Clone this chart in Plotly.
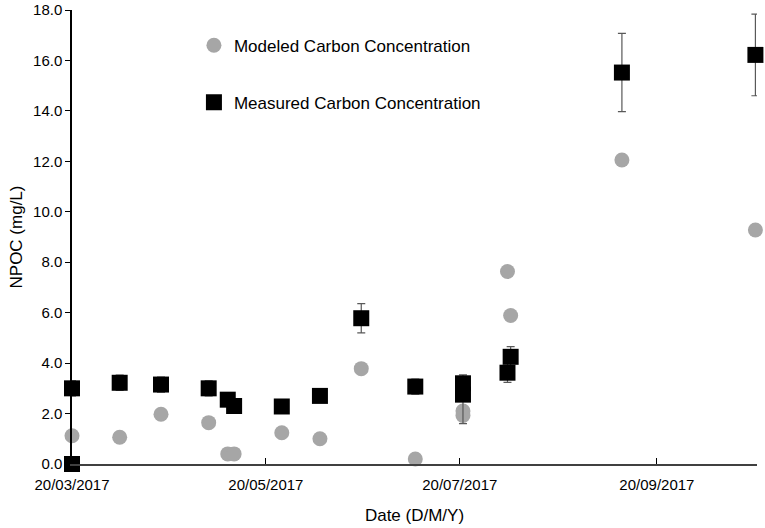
import plotly.graph_objects as go

# Modeled carbon concentration (grey circles)
modeled_dates = ['2017-03-20', '2017-04-04', '2017-04-17', '2017-05-02', '2017-05-08',
                 '2017-05-10', '2017-05-25', '2017-06-06', '2017-06-19', '2017-07-06',
                 '2017-07-21', '2017-07-21', '2017-08-04', '2017-08-05', '2017-09-09',
                 '2017-10-21']
modeled_npoc = [1.12, 1.06, 1.97, 1.64, 0.40, 0.40, 1.24, 1.00, 3.78, 0.20,
                2.10, 1.92, 7.63, 5.89, 12.05, 9.28]
modeled_err = [0.22, 0.22, 0.0, 0.0, 0.22, 0.22, 0.0, 0.22, 0.22, 0.22,
               0.22, 0.22, 0.0, 0.0, 0.22, 0.22]

# Measured carbon concentration (black squares)
measured_dates = ['2017-03-20', '2017-03-20', '2017-04-04', '2017-04-17', '2017-05-02',
                  '2017-05-08', '2017-05-10', '2017-05-25', '2017-06-06', '2017-06-19',
                  '2017-07-06', '2017-07-21', '2017-07-21', '2017-08-04', '2017-08-05',
                  '2017-09-09', '2017-10-21']
measured_npoc = [3.00, 0.00, 3.22, 3.15, 3.00, 2.55, 2.30, 2.28, 2.70, 5.78,
                 3.07, 3.20, 2.75, 3.62, 4.25, 15.52, 16.22]
measured_err_plus = [0.30, 0.0, 0.30, 0.30, 0.30, 0.15, 0.10, 0.10, 0.20, 0.58,
                     0.30, 0.33, 0.30, 0.38, 0.40, 1.55, 1.62]
measured_err_minus = [0.30, 0.0, 0.30, 0.30, 0.30, 0.15, 0.10, 0.10, 0.20, 0.58,
                      0.30, 0.33, 1.15, 0.38, 0.40, 1.55, 1.62]

x_ticks = ['2017-03-20', '2017-05-20', '2017-07-20', '2017-09-20']
y_ticks = [0, 2, 4, 6, 8, 10, 12, 14, 16, 18]

font_family = 'Arial, Liberation Sans, sans-serif'

fig = go.Figure()

fig.add_trace(go.Scatter(
    x=modeled_dates,
    y=modeled_npoc,
    mode='markers',
    name='Modeled Carbon Concentration',
    legendgroup='modeled',
    marker=dict(symbol='circle', size=15, color='#a6a6a6'),
    error_y=dict(type='data', array=modeled_err, color='#404040', thickness=1, width=3),
    cliponaxis=False,
))

fig.add_trace(go.Scatter(
    x=measured_dates,
    y=measured_npoc,
    mode='markers',
    name='Measured Carbon Concentration',
    legendgroup='measured',
    marker=dict(symbol='square', size=16, color='black'),
    error_y=dict(type='data', symmetric=False, array=measured_err_plus,
                 arrayminus=measured_err_minus, color='#595959', thickness=1.2, width=4),
    cliponaxis=False,
))

fig.update_layout(
    width=765,
    height=528,
    margin=dict(l=72, r=8, t=10, b=64),
    paper_bgcolor='white',
    plot_bgcolor='white',
    font=dict(family=font_family, size=15, color='black'),
    showlegend=True,
    legend=dict(
        x=0.178, y=0.961, xanchor='left', yanchor='top',
        traceorder='grouped', tracegroupgap=32,
        font=dict(size=17, color='black'),
        bgcolor='rgba(0,0,0,0)',
        itemwidth=30,
    ),
    xaxis=dict(
        type='date',
        range=['2017-03-20', '2017-10-21 12:00'],
        tickvals=x_ticks,
        tickformat='%d/%m/%Y',
        ticks='inside',
        ticklen=6,
        tickcolor='black',
        ticklabelstandoff=6,
        showline=True,
        linecolor='#404040',
        linewidth=1.5,
        showgrid=False,
        zeroline=False,
        automargin=False,
        title=dict(text='Date (D/M/Y)', font=dict(size=17), standoff=17),
    ),
    yaxis=dict(
        range=[0, 18],
        tickvals=y_ticks,
        tickformat='.1f',
        ticks='outside',
        ticklen=5,
        tickcolor='black',
        showline=True,
        linecolor='black',
        linewidth=1.5,
        showgrid=False,
        zeroline=False,
        automargin=False,
        ticklabeloverflow='allow',
        title=dict(text='NPOC (mg/L)', font=dict(size=17), standoff=6),
    ),
)

# drop the default 8px body margin so the figure fills the window
fig.write_html("out.html", config={'displayModeBar': False},
               post_script="document.body.style.margin = '0';")
